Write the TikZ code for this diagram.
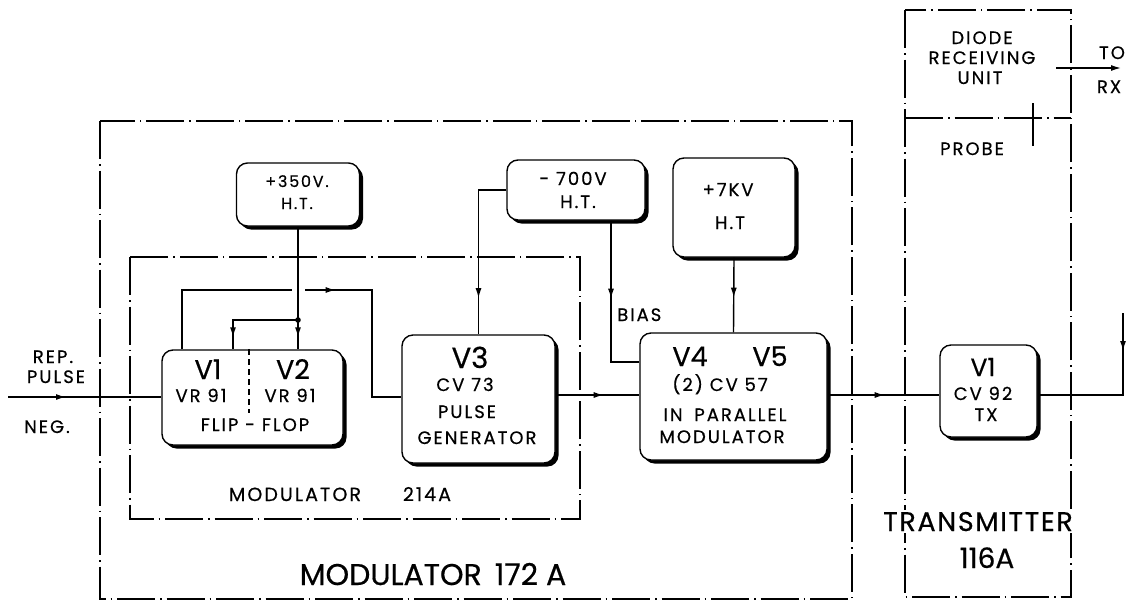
\documentclass[tikz,border=0pt]{standalone}
\usepackage{fontspec}
\setmainfont{Poppins}[FakeBold=0.5]
\newfontfamily\lsf{Poppins}[LetterSpace=11, FakeBold=0.5]
\newfontfamily\wsf{Poppins}[LetterSpace=6, FakeBold=0.5]
\usetikzlibrary{arrows.meta,decorations.markings,shadows}
\tikzset{
  frame/.style={line width=1.4pt, dash pattern=on 38pt off 5pt on 1.5pt off 5pt},
  blk/.style={draw, line width=1.4pt, rounded corners=11pt, fill=white, inner sep=0pt,
    drop shadow={shadow xshift=3.5pt, shadow yshift=-3.5pt, opacity=1, fill=black}},
  wire/.style={line width=1.4pt},
  arrowat/.style={postaction={decorate}, decoration={markings,
    mark=at position #1 with {\arrow{Latex[length=10pt,width=6pt]}}}},
  txt/.style={anchor=base, inner sep=0pt, font=\lsf\fontsize{18}{20}\selectfont},
  big/.style={anchor=base, inner sep=0pt, font=\fontsize{27}{30}\selectfont},
}
\begin{document}
\begin{tikzpicture}[x=1pt,y=-1pt]
\useasboundingbox (0,0) rectangle (1139,603);
% frames
\draw[frame] (100,121) rectangle (852,599);
\draw[frame] (130,257) rectangle (580,519);
\draw[frame] (905,10) rectangle (1071,597);
\draw[frame] (905,118) -- (1071,118);
% boxes
\node[blk, minimum width=123pt, minimum height=63pt] (p350) at (298,194.5) {};
\node[blk, minimum width=138pt, minimum height=60pt] (m700) at (576,190) {};
\node[blk, minimum width=122pt, minimum height=99pt] (p7k) at (734,207.5) {};
\node[blk, minimum width=181pt, minimum height=95pt] (ff) at (252.5,397.5) {};
\node[blk, minimum width=153pt, minimum height=128pt] (v3) at (478.5,399) {};
\node[blk, minimum width=187pt, minimum height=127pt] (v45) at (733.5,396.5) {};
\node[blk, minimum width=97pt, minimum height=92pt] (tx) at (988.5,391) {};
% flip-flop divider
\coordinate (divx) at (249,0);
\draw[line width=1.4pt, dash pattern=on 6pt off 4pt] (ff.north -| divx) -- (divx |- 0,413);
% coordinates
\coordinate (inp) at (8,397);
\coordinate (sig) at (0,395);
\coordinate (fbL) at (182,290);
\coordinate (fbR) at (372,290);
\coordinate (jn) at (298,320);
\coordinate (brL) at (233,320);
\coordinate (biasT) at (611,362);
\coordinate (outT) at (1123,313);
\coordinate (rxA) at (1056,68);
\coordinate (rxB) at (1121,68);
\coordinate (prA) at (1033,103);
\coordinate (prB) at (1033,146);
% connectors
\draw[wire, arrowat=58pt] (inp) -- (inp -| ff.west);
\draw[wire, arrowat=213pt] (ff.north -| fbL) -- (fbL) -- (fbR) -- (fbR |- inp) -- (inp -| v3.west);
\draw[white, line width=5pt] ([xshift=-6pt]jn |- fbR) -- ([xshift=7pt]jn |- fbR);
\draw[wire, arrowat=-12pt] (p350.south) -- (p350.south |- ff.north);
\draw[wire, arrowat=-12pt] (jn) -- (brL) -- (brL |- ff.north);
\fill (jn) circle (2.8pt);
\draw[wire, arrowat=136pt] (m700.west) -| (v3.north);
\draw[wire, arrowat=78pt] (biasT |- m700.south) -- (biasT) -- (biasT -| v45.west);
\draw[wire, arrowat=40pt] (p7k.south) -- (v45.north);
\draw[wire, arrowat=48pt] (v3.east |- sig) -- (v45.west |- sig);
\draw[wire, arrowat=57pt] (v45.east |- sig) -- (tx.west |- sig);
\draw[wire, arrowat=38pt] (outT) -- (outT |- sig) -- (tx.east |- sig);
\draw[wire, -{Latex[length=10pt,width=6pt]}] (rxA) -- (rxB);
\draw[line width=2.6pt] (prA) -- (prB);
% box texts
\node[big] (t1) at (208,379) {V1};
\node[big] (t2) at (293,379) {V2};
\node[txt] (t3) at (201,402) {VR 91};
\node[txt] (t4) at (290,402) {VR 91};
\node[txt] (t5) at (255,431) {FLIP - FLOP};
\node[big, font=\fontsize{29}{30}\selectfont] (t6) at (470,368) {V3};
\node[txt] (t7) at (465,391) {CV 73};
\node[txt] (t8) at (467,418) {PULSE};
\node[txt] (t9) at (477,444) {GENERATOR};
\node[big] (t10) at (690,366) {V4};
\node[big] (t11) at (770,366) {V5};
\node[txt] (t12) at (720,391) {(2) CV 57};
\node[txt] (t13) at (725,421) {IN\; PARALLEL};
\node[txt] (t14) at (722,443) {MODULATOR};
\node[big, font=\fontsize{25}{28}\selectfont] (t15) at (983,376) {V1};
\node[txt] (t16) at (983,400) {CV 92};
\node[txt] (t17) at (986,421) {TX};
\node[txt, font=\lsf\fontsize{16}{18}\selectfont] (t18) at (297,187) {+350V.};
\node[txt, font=\lsf\fontsize{16}{18}\selectfont] (t19) at (297,209) {H.T.};
\node[txt] (t20) at (573,185) {- 700V};
\node[txt] (t21) at (578,208) {H.T.};
\node[txt] (t22) at (728,196) {+7KV};
\node[txt] (t23) at (730,229) {H.T};
% other labels
\node[txt, anchor=base west] (bias) at (617,321) {BIAS};
\node[txt] (rep) at (53,363) {REP.};
\node[txt] (pulse) at (56,383) {PULSE};
\node[txt] (neg) at (47,433) {NEG.};
\node[txt, font=\lsf\fontsize{19}{20}\selectfont] (mod214) at (295,501) {MODULATOR};
\node[txt, font=\lsf\fontsize{19}{20}\selectfont] (n214) at (427,501) {214A};
\node[txt, font=\fontsize{30}{32}\selectfont] (mod172) at (433,585) {MODULATOR\, 172 A};
\node[txt] (diode) at (982,44) {DIODE};
\node[txt] (recv) at (982,64) {RECEIVING};
\node[txt] (unit) at (980,84) {UNIT};
\node[txt] (to) at (1112,59) {TO};
\node[txt] (rx) at (1109,93) {RX};
\node[txt] (probe) at (972,155) {PROBE};
\node[txt, font=\wsf\fontsize{27}{28}\selectfont, fill=white, inner sep=2pt] (trans) at (978,531) {TRANSMITTER};
\node[txt, font=\fontsize{28}{30}\selectfont, fill=white, inner sep=2pt] (n116) at (987,568) {116A};
\end{tikzpicture}
\end{document}
